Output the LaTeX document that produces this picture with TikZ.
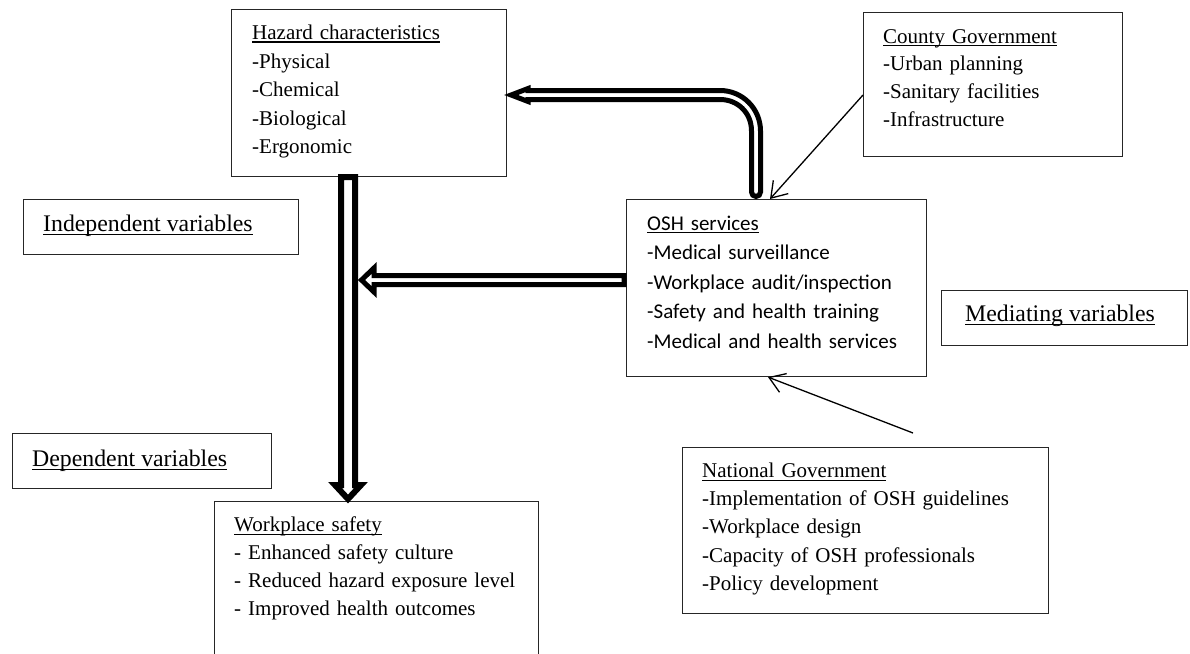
\documentclass[tikz,border=0pt]{standalone}
\usepackage{fontspec}
\setmainfont{Liberation Serif}
\newfontfamily\calfont{Carlito}
\usetikzlibrary{arrows.meta,calc}
\newcommand{\myul}[1]{\setbox0=\hbox{#1}\rlap{\rule[-3pt]{\wd0}{1.1pt}}\box0}
\begin{document}
\begin{tikzpicture}[x=1pt,y=-1pt,
  box/.style={draw=black!85, line width=1.1pt, anchor=north west, inner sep=0pt},
  txt/.style={anchor=base west, inner sep=0pt, align=left, text width=400pt, font=\fontsize{21}{#1}\selectfont},
  txt/.default=28,
  osht/.style={anchor=base west, inner sep=0pt, align=left, text width=400pt, font=\calfont\fontsize{21}{#1}\selectfont},
  lbl/.style={anchor=base west, inner sep=0pt, font=\fontsize{23.8}{28}\selectfont},
  dblarrow/.style={draw=black, fill=white, line join=miter},
  thinarrow/.style={draw=black, line width=1.3pt, -{Straight Barb[length=15pt,width=20pt]}}
]
\useasboundingbox (0,0) rectangle (1190,653);
\clip (0,0) rectangle (1190,653);

% boxes
\node[box, minimum width=275, minimum height=167] (haz) at (231,9) {};
\node[box, minimum width=259, minimum height=144] (cg) at (863,12) {};
\node[box, minimum width=275, minimum height=55] (iv) at (23,198.5) {};
\node[box, minimum width=300, minimum height=177] (osh) at (626,199) {};
\node[box, minimum width=246, minimum height=55] (mv) at (941,290) {};
\node[box, minimum width=259, minimum height=55] (dv) at (12,433) {};
\node[box, minimum width=366, minimum height=166] (ng) at (682,447) {};
\node[box, minimum width=324, minimum height=180] (ws) at (214,501) {};

% texts
\node[txt=28.5] (hazT) at (252,39.5) {\myul{Hazard characteristics}\\-Physical\\-Chemical\\-Biological\\-Ergonomic};
\node[txt=27.9] (cgT) at (883,43) {\myul{County Government}\\-Urban planning\\-Sanitary facilities\\-Infrastructure};
\node[osht=29.6] (oshT) at (647,230) {\myul{OSH services}\\-Medical surveillance\\-Workplace audit/inspection\\-Safety and health training\\-Medical and health services};
\node[txt=28.1] (ngT) at (702,477.7) {\myul{National Government}\\-Implementation of OSH guidelines\\-Workplace design\\-Capacity of OSH professionals\\-Policy development};
\node[txt=27.8] (wsT) at (234,531.7) {\myul{Workplace safety}\\- Enhanced safety culture\\- Reduced hazard exposure level\\- Improved health outcomes};
\node[lbl] (ivT) at (43,231.7) {\myul{Independent variables}};
\node[lbl] (dvT) at (32,466.7) {\myul{Dependent variables}};
\node[lbl] (mvT) at (965,321.7) {\myul{Mediating variables}};

% vertical double arrow: hazard -> workplace safety
\coordinate (vx) at (348,0);
\coordinate (vtop) at (haz.south -| vx);
\coordinate (vtip0) at (ws.north -| vx);
\coordinate (vtip) at ($(vtip0)+(0,2)$);
\draw[dblarrow, line width=6pt] ($(vtop)+(-7,0)$) -- ($(vtip)+(-7,-18)$) -- ($(vtip)+(-13,-18)$) -- ($(vtip)+(0,-4)$) -- ($(vtip)+(13,-18)$) -- ($(vtip)+(7,-18)$) -- ($(vtop)+(7,0)$) -- cycle;

% horizontal double arrow: OSH -> vertical shaft
\coordinate (hy) at (0,280);
\coordinate (htail) at (osh.west |- hy);
\coordinate (htip) at ($(vx |- hy)+(10,0)$);
\draw[dblarrow, line width=5pt] ($(htail)+(-2,-4.5)$) -- ($(htip)+(16,-4.5)$) -- ($(htip)+(16,-12)$) -- ($(htip)+(3.5,0)$) -- ($(htip)+(16,12)$) -- ($(htip)+(16,4.5)$) -- ($(htail)+(-2,4.5)$) -- cycle;

% curved double arrow: OSH -> hazard
\coordinate (cx) at (756,0);
\coordinate (cy) at (0,95);
\coordinate (ck) at (cx |- cy);
\coordinate (ctail0) at (osh.north -| cx);
\coordinate (ctail) at ($(ctail0)+(0,-7)$);
\coordinate (ctip0) at (haz.east |- cy);
\coordinate (ctip) at ($(ctip0)+(4,0)$);
\draw[dblarrow, line width=5pt]
  ($(ctail)+(4.5,0)$) -- ($(ck)+(4.5,36)$)
  .. controls ($(ck)+(4.5,13.6)$) and ($(ck)+(-13.6,-4.5)$) .. ($(ck)+(-36,-4.5)$)
  -- ($(ctip)+(17,-4.5)$) -- ($(ctip)+(17,-6.5)$) -- (ctip) -- ($(ctip)+(17,6.5)$) -- ($(ctip)+(17,4.5)$)
  -- ($(ck)+(-36,4.5)$)
  .. controls ($(ck)+(-18.6,4.5)$) and ($(ck)+(-4.5,17.4)$) .. ($(ck)+(-4.5,36)$)
  -- ($(ctail)+(-4.5,0)$)
  .. controls ($(ctail)+(-4.5,2.5)$) and ($(ctail)+(-2.5,4.5)$) .. ($(ctail)+(0,4.5)$)
  .. controls ($(ctail)+(2.5,4.5)$) and ($(ctail)+(4.5,2.5)$) .. ($(ctail)+(4.5,0)$)
  -- cycle;

% thin arrows
\coordinate (cgs) at (cg.west |- 0,95);
\coordinate (cge) at (osh.north -| 770,0);
\draw[thinarrow] (cgs) -- (cge);
\coordinate (ngs0) at (ng.north -| 913,0);
\coordinate (ngs) at ($(ngs0)+(0,-14)$);
\coordinate (nge) at (osh.south -| 768,0);
\draw[thinarrow] (ngs) -- (nge);
\end{tikzpicture}
\end{document}
